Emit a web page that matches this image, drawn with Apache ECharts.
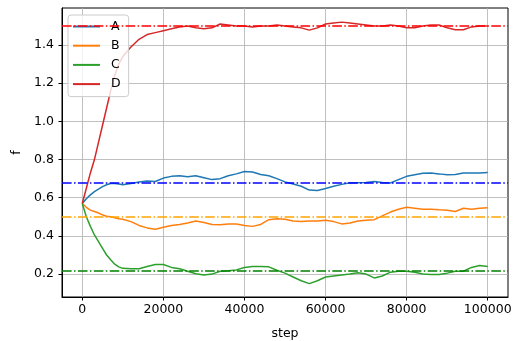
<!DOCTYPE html>
<html><head><meta charset="utf-8">
<script src="https://cdn.jsdelivr.net/npm/echarts@6/dist/echarts.min.js"></script>
<style>html,body{margin:0;padding:0;background:#fff}#c{width:519px;height:341px}</style>
</head><body><div id="c"></div>
<script>
const steps = [0,1000,2000,3000,4000,5000,6000,7000,8000,9000,10000,12000,14000,16000,18000,20000,22000,24000,26000,28000,30000,32000,34000,36000,38000,40000,42000,44000,46000,48000,50000,52000,54000,56000,58000,60000,62000,64000,66000,68000,70000,72000,74000,76000,78000,80000,82000,84000,86000,88000,90000,92000,94000,96000,98000,100000];
const seriesNames = ['A','B','C','D'];
const valuesA = [0.57,0.595,0.615,0.632,0.645,0.658,0.668,0.675,0.675,0.672,0.668,0.675,0.683,0.688,0.685,0.703,0.712,0.715,0.71,0.715,0.705,0.695,0.70,0.715,0.725,0.737,0.735,0.722,0.715,0.70,0.683,0.672,0.66,0.64,0.638,0.648,0.66,0.67,0.678,0.678,0.68,0.685,0.68,0.677,0.695,0.712,0.72,0.728,0.729,0.725,0.72,0.722,0.73,0.73,0.73,0.732];
const valuesB = [0.57,0.55,0.535,0.528,0.52,0.51,0.503,0.50,0.495,0.49,0.487,0.475,0.455,0.442,0.435,0.445,0.455,0.46,0.468,0.478,0.47,0.46,0.458,0.462,0.463,0.455,0.45,0.46,0.485,0.49,0.487,0.478,0.475,0.478,0.478,0.482,0.475,0.463,0.468,0.478,0.482,0.485,0.505,0.525,0.54,0.55,0.545,0.54,0.54,0.537,0.535,0.528,0.545,0.54,0.545,0.548];
const valuesC = [0.57,0.50,0.45,0.405,0.37,0.335,0.30,0.275,0.252,0.238,0.23,0.228,0.228,0.24,0.25,0.25,0.235,0.228,0.215,0.202,0.195,0.20,0.215,0.218,0.222,0.235,0.24,0.24,0.238,0.22,0.205,0.185,0.165,0.15,0.165,0.185,0.19,0.195,0.20,0.207,0.20,0.18,0.19,0.21,0.215,0.215,0.21,0.20,0.198,0.198,0.205,0.215,0.215,0.235,0.245,0.24];
const valuesD = [0.57,0.65,0.73,0.80,0.89,0.98,1.07,1.16,1.24,1.30,1.34,1.39,1.43,1.455,1.465,1.475,1.485,1.495,1.50,1.49,1.485,1.49,1.51,1.505,1.50,1.50,1.495,1.50,1.50,1.505,1.50,1.495,1.49,1.478,1.49,1.51,1.515,1.52,1.515,1.51,1.505,1.50,1.50,1.505,1.50,1.49,1.49,1.50,1.505,1.505,1.49,1.48,1.48,1.495,1.50,1.50];
const refValues = [0.68,0.5,0.22,1.5];
const xTicks = [0,20000,40000,60000,80000,100000];
const yTicks = [0.2,0.4,0.6,0.8,1.0,1.2,1.4];

const lineColors = ['#1f77b4','#ff7f0e','#2ca02c','#d62728'];
const refColors = ['#0000ff','#ffa500','#008000','#ff0000'];
const allValues = [valuesA,valuesB,valuesC,valuesD];
const font = 'DejaVu Sans';
const fs = 12.5;

const series = seriesNames.map((n,i)=>({
  name:n, type:'line', symbol:'none', showSymbol:false,
  data: steps.map((s,k)=>[s, allValues[i][k]]),
  lineStyle:{color:lineColors[i], width:1.5},
  itemStyle:{color:lineColors[i]},
  markLine:{silent:true, symbol:'none', label:{show:false},
    lineStyle:{color:refColors[i], width:1.5, type:[9.6,2.4,1.5,2.4]},
    data:[{yAxis:refValues[i]}]},
  z:2
}));

const chart = echarts.init(document.getElementById('c'), null, {renderer:'canvas'});
chart.setOption({
  animation:false,
  grid:{left:62, right:11, top:8, bottom:44, show:true, borderColor:'#000', borderWidth:1, backgroundColor:'transparent', containLabel:false, outerBoundsMode:'none'},
  legend:{
    orient:'vertical', left:68, top:15, data:seriesNames,
    icon:'rect', itemWidth:27, itemHeight:2, itemGap:4.2,
    backgroundColor:'rgba(255,255,255,0.8)', borderColor:'#cccccc', borderWidth:1, borderRadius:3,
    padding:[4,8,5,5],
    textStyle:{fontFamily:font, fontSize:fs, color:'#000', lineHeight:15, padding:[0,0,0,6]}
  },
  xAxis:{type:'value', min:-5000, max:105000,
    name:'step', nameLocation:'middle', nameGap:30, nameTextStyle:{fontFamily:font, fontSize:fs, color:'#000'},
    axisLine:{show:true, onZero:false, lineStyle:{color:'#000', width:1}},
    axisTick:{show:true, length:3.5, customValues:xTicks, lineStyle:{color:'#000'}},
    axisLabel:{customValues:xTicks, fontFamily:font, fontSize:fs, color:'#000', margin:6, formatter:v=>String(v)},
    splitLine:{show:true, customValues:xTicks, lineStyle:{color:'#b0b0b0', width:0.8}}
  },
  yAxis:{type:'value', min:0.08, max:1.594,
    name:'f', nameLocation:'middle', nameGap:39, nameTextStyle:{fontFamily:font, fontSize:fs, color:'#000'},
    axisLine:{show:true, onZero:false, lineStyle:{color:'#000', width:1}},
    axisTick:{show:true, length:3.5, customValues:yTicks, lineStyle:{color:'#000'}},
    axisLabel:{customValues:yTicks, fontFamily:font, fontSize:fs, color:'#000', margin:8, formatter:v=>v.toFixed(1)},
    splitLine:{show:true, customValues:yTicks, lineStyle:{color:'#b0b0b0', width:0.8}}
  },
  series: series
});
</script></body></html>
